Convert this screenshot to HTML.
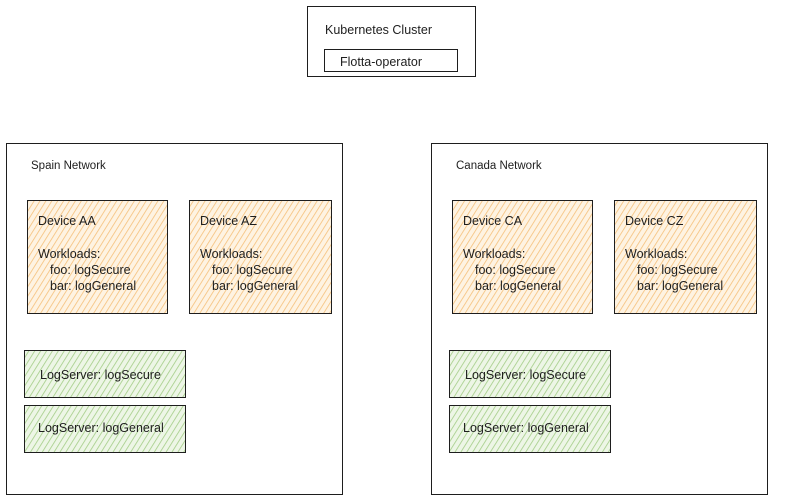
<!DOCTYPE html>
<html><head><style>body{margin:0;background:#fff}svg{display:block}text{font-family:"Liberation Sans",sans-serif;font-size:12.5px;fill:#1e1e1e}</style></head>
<body>
<svg width="800" height="502" xmlns="http://www.w3.org/2000/svg">
<defs>
<pattern id="ho" width="5" height="5" patternUnits="userSpaceOnUse" patternTransform="rotate(32)">
<rect width="5" height="5" fill="#fef3e2"/><line x1="0" y1="0" x2="0" y2="5" stroke="#f5c07a" stroke-width="1.6"/></pattern>
<pattern id="hg" width="5" height="5" patternUnits="userSpaceOnUse" patternTransform="rotate(32)">
<rect width="5" height="5" fill="#edf6e6"/><line x1="0" y1="0" x2="0" y2="5" stroke="#a3cd86" stroke-width="1.6"/></pattern>
</defs>
<g fill="none" stroke="#1e1e1e" stroke-width="1">
<rect x="307.5" y="6.5" width="168" height="70"/>
<rect x="324.5" y="49.5" width="133" height="22"/>
<rect x="6.5" y="143.5" width="336" height="351"/>
<rect x="431.5" y="143.5" width="336" height="351"/>
</g>
<g stroke="#1e1e1e" stroke-width="1">
<rect x="27.5" y="200.5" width="140" height="113" fill="url(#ho)"/>
<rect x="189.5" y="200.5" width="142" height="113" fill="url(#ho)"/>
<rect x="452.5" y="200.5" width="140" height="113" fill="url(#ho)"/>
<rect x="614.5" y="200.5" width="142" height="113" fill="url(#ho)"/>
<rect x="24.5" y="350.5" width="161" height="47" fill="url(#hg)"/>
<rect x="24.5" y="405.5" width="161" height="47" fill="url(#hg)"/>
<rect x="449.5" y="350.5" width="161" height="47" fill="url(#hg)"/>
<rect x="449.5" y="405.5" width="161" height="47" fill="url(#hg)"/>
</g>
<text x="325" y="34">Kubernetes Cluster</text>
<text x="340" y="66">Flotta-operator</text>
<text x="31" y="169" style="font-size:11.5px">Spain Network</text>
<text x="456" y="169" style="font-size:11.5px">Canada Network</text>
<g>
<text x="38" y="225">Device AA</text><text x="38" y="258">Workloads:</text><text x="50" y="274">foo: logSecure</text><text x="50" y="290">bar: logGeneral</text>
<text x="200" y="225">Device AZ</text><text x="200" y="258">Workloads:</text><text x="212" y="274">foo: logSecure</text><text x="212" y="290">bar: logGeneral</text>
<text x="463" y="225">Device CA</text><text x="463" y="258">Workloads:</text><text x="475" y="274">foo: logSecure</text><text x="475" y="290">bar: logGeneral</text>
<text x="625" y="225">Device CZ</text><text x="625" y="258">Workloads:</text><text x="637" y="274">foo: logSecure</text><text x="637" y="290">bar: logGeneral</text>
</g>
<text x="40" y="379">LogServer: logSecure</text>
<text x="38" y="432">LogServer: logGeneral</text>
<text x="465" y="379">LogServer: logSecure</text>
<text x="463" y="432">LogServer: logGeneral</text>
</svg>
</body></html>
